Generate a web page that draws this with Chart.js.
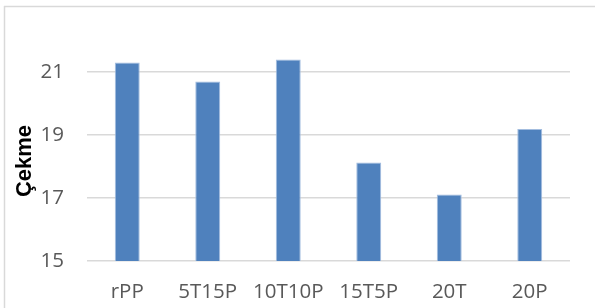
<!DOCTYPE html>
<html>
<head>
<meta charset="utf-8">
<script src="https://cdn.jsdelivr.net/npm/chart.js@4"></script>
<style>
  html, body { margin: 0; padding: 0; background: #fff; }
  #wrap { width: 595px; height: 308px; position: relative; }
</style>
</head>
<body>
<div id="wrap"><canvas id="chart"></canvas></div>
<script>
// ==========================
// Data
// ==========================
const categories = ['rPP', '5T15P', '10T10P', '15T5P', '20T', '20P'];
const cekmeValues = [21.3, 20.7, 21.4, 18.13, 17.11, 19.19];
const yTicks = [15, 17, 19, 21];
const yTitle = 'Çekme';

const FONT = "'Open Sans', 'Liberation Sans', sans-serif";

// frame around the chart + rotated axis title
const framePlugin = {
    id: 'frame',
    beforeDraw(chart) {
        const ctx = chart.ctx;
        ctx.save();
        ctx.strokeStyle = '#D9D9D9';
        ctx.lineWidth = 1.5;
        ctx.beginPath();
        ctx.moveTo(4, 6.5);
        ctx.lineTo(chart.width, 6.5);
        ctx.moveTo(4.5, 6);
        ctx.lineTo(4.5, chart.height);
        ctx.stroke();
        ctx.restore();
    },
    afterDraw(chart) {
        const ctx = chart.ctx;
        ctx.save();
        ctx.translate(25, 161);
        ctx.rotate(-Math.PI / 2);
        ctx.fillStyle = '#000';
        ctx.font = "bold 22px 'Liberation Sans', sans-serif";
        ctx.textAlign = 'center';
        ctx.textBaseline = 'middle';
        ctx.fillText(yTitle, 0, 0);
        ctx.restore();
    }
};

new Chart(document.getElementById('chart'), {
    type: 'bar',
    data: {
        labels: categories,
        datasets: [{
            data: cekmeValues,
            backgroundColor: '#4F81BD',
            borderColor: '#A3BDDF',
            borderWidth: 1,
            barPercentage: 0.31,
            categoryPercentage: 1
        }]
    },
    options: {
        responsive: true,
        maintainAspectRatio: false,
        animation: false,
        layout: { padding: { top: 9, right: 25, left: 0, bottom: 0 } },
        plugins: { legend: { display: false }, tooltip: { enabled: false } },
        scales: {
            x: {
                grid: { display: false, drawTicks: false },
                border: { display: false },
                ticks: { color: '#595959', font: { family: FONT, size: 20.5 }, padding: 19, maxRotation: 0 },
                afterFit(scale) { scale.height = 47; scale.paddingLeft = 0; scale.paddingRight = 0; }
            },
            y: {
                min: 15,
                max: 23,
                afterBuildTicks(scale) { scale.ticks = yTicks.map(v => ({ value: v })); },
                grid: { color: '#D9D9D9', lineWidth: 1.5, drawTicks: false },
                border: { display: false },
                ticks: { color: '#595959', font: { family: FONT, size: 20.5 }, padding: 23 },
                afterFit(scale) { scale.width = 87; scale.paddingTop = 0; scale.paddingBottom = 0; }
            }
        }
    },
    plugins: [framePlugin]
});
</script>
</body>
</html>
